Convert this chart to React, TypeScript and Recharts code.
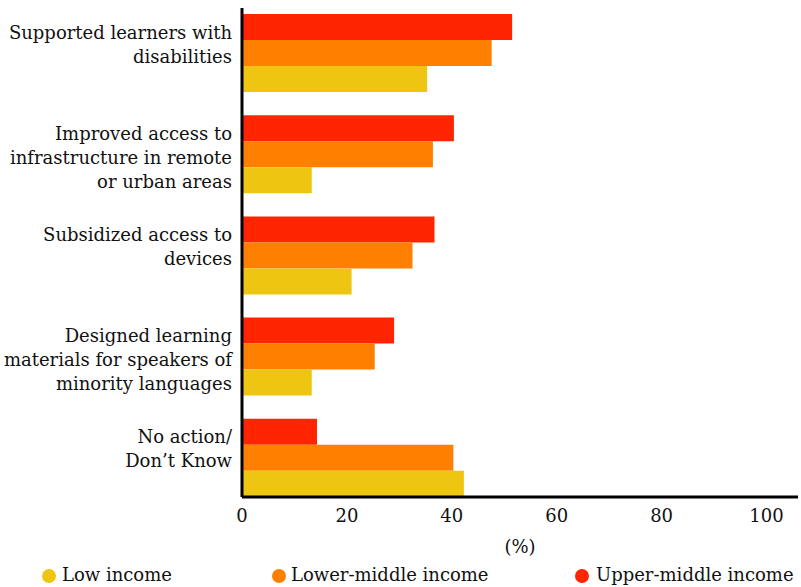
import React from 'react';
import { BarChart, Bar, XAxis, YAxis, Legend, Label } from 'recharts';

const categories = [
  'Supported learners with\ndisabilities',
  'Improved access to\ninfrastructure in remote\nor urban areas',
  'Subsidized access to\ndevices',
  'Designed learning\nmaterials for speakers of\nminority languages',
  'No action/\nDon\u2019t Know',
];
const lowIncome = [35.3, 13.3, 20.9, 13.3, 42.3];
const lowerMiddleIncome = [47.6, 36.4, 32.5, 25.3, 40.3];
const upperMiddleIncome = [51.5, 40.4, 36.7, 29.0, 14.3];
const xTicks = [0, 20, 40, 60, 80, 100];

const seriesNames = ['Low income', 'Lower-middle income', 'Upper-middle income'];
const COLORS = { low: '#EEC511', lower: '#FF8000', upper: '#FF2500' };
const FONT = 'DejaVu Serif';
const FS = 18;

const data = categories.map((name, i) => ({
  name,
  low: lowIncome[i],
  lower: lowerMiddleIncome[i],
  upper: upperMiddleIncome[i],
}));

// labels are top-aligned in the original, first line sits a bit above the group centre
function CategoryTick({ x, y, payload }: any) {
  const lines = String(payload.value).split('\n');
  const lh = 24;
  return (
    <text x={x} y={y} textAnchor="end" fill="#111" fontSize={FS} fontFamily={FONT}>
      {lines.map((l, i) => (
        <tspan key={i} x={x} dy={i === 0 ? -14 : lh}>
          {l}
        </tspan>
      ))}
    </text>
  );
}

function IncomeLegend() {
  const items = [
    { name: seriesNames[0], color: COLORS.low, cx: 49, tx: 62 },
    { name: seriesNames[1], color: COLORS.lower, cx: 279, tx: 291 },
    { name: seriesNames[2], color: COLORS.upper, cx: 582, tx: 596 },
  ];
  return (
    <div style={{ position: 'relative', height: 24, width: 801, fontFamily: FONT, fontSize: FS, color: '#111' }}>
      {items.map((it) => (
        <React.Fragment key={it.name}>
          <span
            style={{
              position: 'absolute',
              left: it.cx - 7,
              top: 6,
              width: 14,
              height: 14,
              borderRadius: 7,
              background: it.color,
            }}
          />
          <span style={{ position: 'absolute', left: it.tx, top: 0, whiteSpace: 'nowrap', lineHeight: '24px' }}>
            {it.name}
          </span>
        </React.Fragment>
      ))}
    </div>
  );
}

export default function App() {
  return (
    <div style={{ position: 'absolute', left: 0, top: 0, background: '#fff' }}>
      <BarChart
        width={801}
        height={587}
        data={data}
        layout="vertical"
        margin={{ top: 8, right: 3, left: 0, bottom: 0 }}
        barCategoryGap={12}
        barGap={0}
      >
        <XAxis
          type="number"
          domain={[0, 106]}
          ticks={xTicks}
          height={66}
          axisLine={{ stroke: '#000', strokeWidth: 3 }}
          tickLine={false}
          tickMargin={6}
          tick={{ fill: '#111', fontSize: FS, fontFamily: FONT }}
        >
          <Label
            value="(%)"
            position="insideBottom"
            offset={10}
            style={{ fill: '#111', fontSize: FS, fontFamily: FONT }}
          />
        </XAxis>
        <YAxis
          type="category"
          dataKey="name"
          width={242}
          padding={{ top: -6, bottom: -11 }}
          axisLine={{ stroke: '#000', strokeWidth: 3 }}
          tickLine={false}
          tick={<CategoryTick />}
          tickMargin={4}
        />
        <Legend
          verticalAlign="bottom"
          content={() => <IncomeLegend />}
          wrapperStyle={{ left: 0, width: 801, height: 24 }}
        />
        <Bar dataKey="upper" name={seriesNames[2]} fill={COLORS.upper} isAnimationActive={false} />
        <Bar dataKey="lower" name={seriesNames[1]} fill={COLORS.lower} isAnimationActive={false} />
        <Bar dataKey="low" name={seriesNames[0]} fill={COLORS.low} isAnimationActive={false} />
      </BarChart>
    </div>
  );
}
